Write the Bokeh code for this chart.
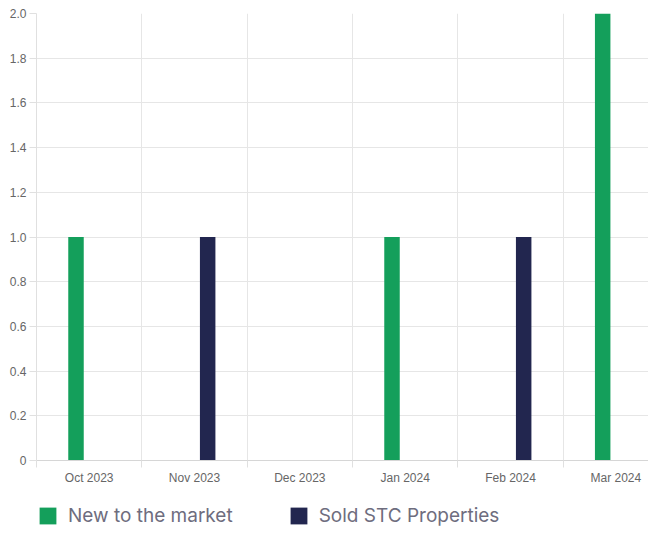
from bokeh.plotting import figure
from bokeh.layouts import column
from bokeh.models import FixedTicker, PrintfTickFormatter, Range1d, Legend, LegendItem, ColumnDataSource
from bokeh.embed import file_html
from bokeh.resources import INLINE
import numpy as np

months = ["Oct 2023", "Nov 2023", "Dec 2023", "Jan 2024", "Feb 2024", "Mar 2024"]
new_to_market = [1, 0, 0, 1, 0, 2]
sold_stc = [0, 1, 0, 0, 1, 0]
series_names = ["New to the market", "Sold STC Properties"]
y_ticks = [0, 0.2, 0.4, 0.6, 0.8, 1.0, 1.2, 1.4, 1.6, 1.8, 2.0]

GREEN = "#149f5b"
NAVY = "#22264f"

idx = np.arange(len(months))
centers = idx + 0.5

p = figure(width=648, height=487, output_backend="svg", toolbar_location=None,
           x_range=Range1d(0, 5.81), y_range=Range1d(0, 2.0),
           min_border_left=36, min_border_top=13, min_border_right=0, min_border_bottom=0)
p.outline_line_color = None

src_new = ColumnDataSource(dict(x=centers - 0.125, top=new_to_market))
src_sold = ColumnDataSource(dict(x=centers + 0.125, top=sold_stc))
p.vbar(x="x", top="top", width=0.147, source=src_new, fill_color=GREEN, line_color=None)
p.vbar(x="x", top="top", width=0.147, source=src_sold, fill_color=NAVY, line_color=None)

# x axis: labels at category centres, ticks at boundaries
xa = p.xaxis[0]
xa.ticker = FixedTicker(ticks=list(centers), minor_ticks=list(idx.astype(float)))
xa.major_label_overrides = {float(c): m for c, m in zip(centers, months)}
xa.major_tick_out = 0
xa.major_tick_in = 0
xa.minor_tick_out = 7
xa.minor_tick_in = 0
xa.minor_tick_line_color = "#e0e0e0"
xa.axis_line_color = "#d6d6d6"
xa.major_label_text_font = "Liberation Sans"
xa.major_label_text_font_size = "12px"
xa.major_label_text_color = "#666666"
xa.major_label_standoff = 3

ya = p.yaxis[0]
ya.ticker = FixedTicker(ticks=y_ticks, minor_ticks=[])
ya.formatter = PrintfTickFormatter(format="%.1f")
ya.major_label_overrides = {0: "0"}
ya.major_tick_out = 7
ya.major_tick_in = 0
ya.major_tick_line_color = "#e0e0e0"
ya.axis_line_color = "#e0e0e0"
ya.major_label_text_font = "Liberation Sans"
ya.major_label_text_font_size = "12px"
ya.major_label_text_color = "#666666"
ya.major_label_standoff = 3

p.xgrid.ticker = FixedTicker(ticks=list(idx.astype(float)))
p.xgrid.grid_line_color = "#e6e6e6"
p.ygrid.grid_line_color = "#e6e6e6"

# legend strip below the chart (hidden proxy glyphs outside the visible range)
pl = figure(width=648, height=40, output_backend="svg", toolbar_location=None,
            x_range=Range1d(0, 1), y_range=Range1d(0, 1),
            min_border=0, x_axis_type=None, y_axis_type=None)
pl.outline_line_color = None
pl.xgrid.visible = False
pl.ygrid.visible = False
g1 = pl.vbar(x=[-5], top=[-5], width=0.1, fill_color=GREEN, line_color=None)
g2 = pl.vbar(x=[-5], top=[-5], width=0.1, fill_color=NAVY, line_color=None)
legend = Legend(items=[LegendItem(label=series_names[0], renderers=[g1]),
                       LegendItem(label=series_names[1], renderers=[g2])],
                orientation="horizontal", location=(1, 0),
                glyph_width=21, glyph_height=21, label_standoff=10, spacing=55,
                label_text_font="Inter", label_text_font_size="19px",
                label_text_color="#6e6d7e", padding=0, margin=0,
                background_fill_alpha=0, border_line_alpha=0)
pl.add_layout(legend, "center")

layout = column(p, pl, spacing=0)
open("out.html", "w").write(file_html(layout, INLINE))
